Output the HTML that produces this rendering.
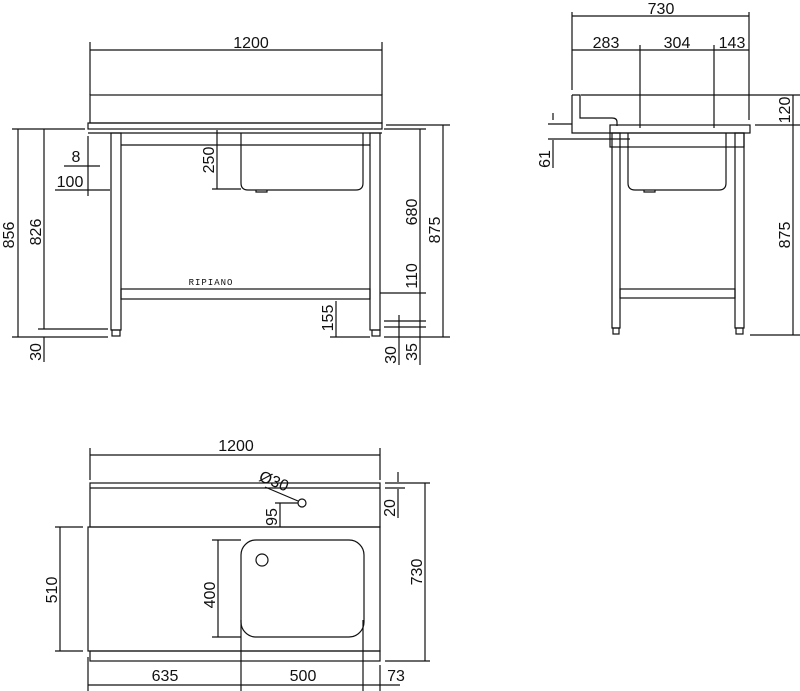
<!DOCTYPE html>
<html><head><meta charset="utf-8"><style>
html,body{margin:0;padding:0;background:#fff}
svg{display:block}
text{font-family:"Liberation Sans",sans-serif;font-size:16px;fill:#111}
</style></head><body>
<svg width="800" height="691" viewBox="0 0 800 691" xmlns="http://www.w3.org/2000/svg">
<g stroke="#111" stroke-width="1.2" fill="none">
<!-- FRONT VIEW -->
<line x1="90" y1="42" x2="90" y2="95"/><line x1="382" y1="42" x2="382" y2="95"/>
<line x1="90" y1="50" x2="382" y2="50"/>
<rect x="90" y="95" width="292" height="28"/>
<rect x="88" y="123" width="294" height="6"/>
<line x1="88" y1="133" x2="382" y2="133"/>
<rect x="111" y="133" width="10" height="197"/>
<rect x="370" y="133" width="10" height="197"/>
<rect x="112" y="330" width="8" height="6"/><rect x="372" y="330" width="8" height="6"/>
<line x1="121" y1="145" x2="370" y2="145"/>
<rect x="121" y="289" width="249" height="10"/>
<path d="M241 133 V183 Q241 190 248 190 H356 Q363 190 363 183 V133"/>
<path d="M256 190 V192 H267 V190"/>
<line x1="18" y1="129" x2="18" y2="337"/><line x1="12" y1="129" x2="85" y2="129"/>
<line x1="12" y1="337" x2="108" y2="337"/>
<line x1="44" y1="129" x2="44" y2="329"/><line x1="38" y1="329" x2="108" y2="329"/>
<line x1="44" y1="337" x2="44" y2="362"/>
<line x1="88" y1="136" x2="88" y2="196"/>
<line x1="64" y1="166" x2="100" y2="166"/>
<line x1="55" y1="190" x2="110" y2="190"/>
<line x1="217" y1="130" x2="217" y2="189"/><line x1="212" y1="189" x2="241" y2="189"/>
<line x1="336" y1="301" x2="336" y2="337"/><line x1="330" y1="337" x2="370" y2="337"/>
<line x1="386" y1="125" x2="450" y2="125"/>
<line x1="384" y1="129" x2="426" y2="129"/>
<line x1="380" y1="293" x2="426" y2="293"/>
<line x1="384" y1="321" x2="426" y2="321"/>
<line x1="384" y1="327" x2="426" y2="327"/>
<line x1="384" y1="337" x2="450" y2="337"/>
<line x1="420" y1="129" x2="420" y2="365"/>
<line x1="443" y1="125" x2="443" y2="337"/>
<line x1="399" y1="315" x2="399" y2="365"/>
<!-- SIDE VIEW -->
<line x1="572" y1="12" x2="572" y2="90"/><line x1="749" y1="12" x2="749" y2="120"/>
<line x1="572" y1="16" x2="749" y2="16"/>
<line x1="572" y1="50" x2="749" y2="50"/>
<line x1="640" y1="45" x2="640" y2="128"/><line x1="714" y1="45" x2="714" y2="128"/>
<line x1="581" y1="95" x2="800" y2="95"/>
<path d="M572 95 H580 V118 H612 Q617 118 617 122 V126"/>
<path d="M572 95 V133 H610"/>
<rect x="610" y="125" width="140" height="8"/>
<rect x="610" y="133" width="134" height="14"/>
<rect x="612" y="133" width="8" height="195"/><rect x="735" y="133" width="9" height="195"/>
<rect x="613" y="328" width="6" height="6"/><rect x="736" y="328" width="7" height="6"/>
<rect x="620" y="289" width="115" height="9"/>
<path d="M628 133 V183 Q628 190 635 190 H719 Q726 190 726 183 V133"/>
<path d="M644 190 V192 H655 V190"/>
<line x1="755" y1="125" x2="800" y2="125"/>
<line x1="750" y1="335" x2="800" y2="335"/>
<line x1="793" y1="95" x2="793" y2="335"/>
<line x1="553" y1="113" x2="553" y2="120"/>
<line x1="553" y1="140" x2="553" y2="168"/>
<line x1="548" y1="124" x2="572" y2="124"/>
<line x1="548" y1="139" x2="630" y2="139"/>
<!-- TOP VIEW -->
<line x1="90" y1="448" x2="90" y2="480"/><line x1="380" y1="448" x2="380" y2="480"/>
<line x1="90" y1="455" x2="380" y2="455"/>
<rect x="90" y="483" width="290" height="44"/>
<line x1="90" y1="488" x2="380" y2="488"/>
<rect x="88" y="527" width="292" height="124"/>
<rect x="90" y="651" width="290" height="10"/>
<rect x="241" y="540" width="123" height="97" rx="15"/>
<circle cx="262" cy="560" r="6"/>
<circle cx="302" cy="503" r="4"/>
<line x1="265" y1="487" x2="298" y2="501"/>
<line x1="275" y1="503" x2="298" y2="503"/>
<line x1="280" y1="503" x2="280" y2="527"/>
<line x1="385" y1="483" x2="430" y2="483"/>
<line x1="385" y1="488" x2="405" y2="488"/>
<line x1="385" y1="661" x2="430" y2="661"/>
<line x1="398" y1="472" x2="398" y2="482"/>
<line x1="398" y1="489" x2="398" y2="518"/>
<line x1="425" y1="483" x2="425" y2="661"/>
<line x1="55" y1="527" x2="83" y2="527"/><line x1="55" y1="651" x2="83" y2="651"/>
<line x1="60" y1="527" x2="60" y2="651"/>
<line x1="212" y1="540" x2="241" y2="540"/><line x1="212" y1="637" x2="241" y2="637"/>
<line x1="218" y1="540" x2="218" y2="637"/>
<line x1="88" y1="657" x2="88" y2="691"/>
<line x1="241" y1="620" x2="241" y2="691"/>
<line x1="363" y1="620" x2="363" y2="691"/>
<line x1="380" y1="665" x2="380" y2="691"/>
<line x1="88" y1="685" x2="400" y2="685"/>
</g>
<text x="251" y="48" text-anchor="middle">1200</text>
<text x="76" y="162" text-anchor="middle">8</text>
<text x="70" y="187" text-anchor="middle">100</text>
<text transform="translate(14,235) rotate(-90)" text-anchor="middle">856</text>
<text transform="translate(41,232) rotate(-90)" text-anchor="middle">826</text>
<text transform="translate(41,352) rotate(-90)" text-anchor="middle">30</text>
<text transform="translate(214,160) rotate(-90)" text-anchor="middle">250</text>
<text x="211" y="285" text-anchor="middle" style="font-family:'Liberation Mono',monospace;font-size:9px;letter-spacing:1px">RIPIANO</text>
<text transform="translate(333,318) rotate(-90)" text-anchor="middle">155</text>
<text transform="translate(417,212) rotate(-90)" text-anchor="middle">680</text>
<text transform="translate(417,276) rotate(-90)" text-anchor="middle">110</text>
<text transform="translate(440,230) rotate(-90)" text-anchor="middle">875</text>
<text transform="translate(396,355) rotate(-90)" text-anchor="middle">30</text>
<text transform="translate(417,352) rotate(-90)" text-anchor="middle">35</text>
<text x="661" y="14" text-anchor="middle">730</text>
<text x="606" y="48" text-anchor="middle">283</text>
<text x="677" y="48" text-anchor="middle">304</text>
<text x="732" y="48" text-anchor="middle">143</text>
<text transform="translate(790,110) rotate(-90)" text-anchor="middle">120</text>
<text transform="translate(790,235) rotate(-90)" text-anchor="middle">875</text>
<text transform="translate(550,159) rotate(-90)" text-anchor="middle">61</text>
<text x="236" y="451" text-anchor="middle">1200</text>
<text transform="translate(272,486) rotate(22)" text-anchor="middle">Ø30</text>
<text transform="translate(277,517) rotate(-90)" text-anchor="middle">95</text>
<text transform="translate(395,508) rotate(-90)" text-anchor="middle">20</text>
<text transform="translate(422,572) rotate(-90)" text-anchor="middle">730</text>
<text transform="translate(57,590) rotate(-90)" text-anchor="middle">510</text>
<text transform="translate(215,595) rotate(-90)" text-anchor="middle">400</text>
<text x="165" y="681" text-anchor="middle">635</text>
<text x="303" y="681" text-anchor="middle">500</text>
<text x="396" y="681" text-anchor="middle">73</text>
</svg>
</body></html>
